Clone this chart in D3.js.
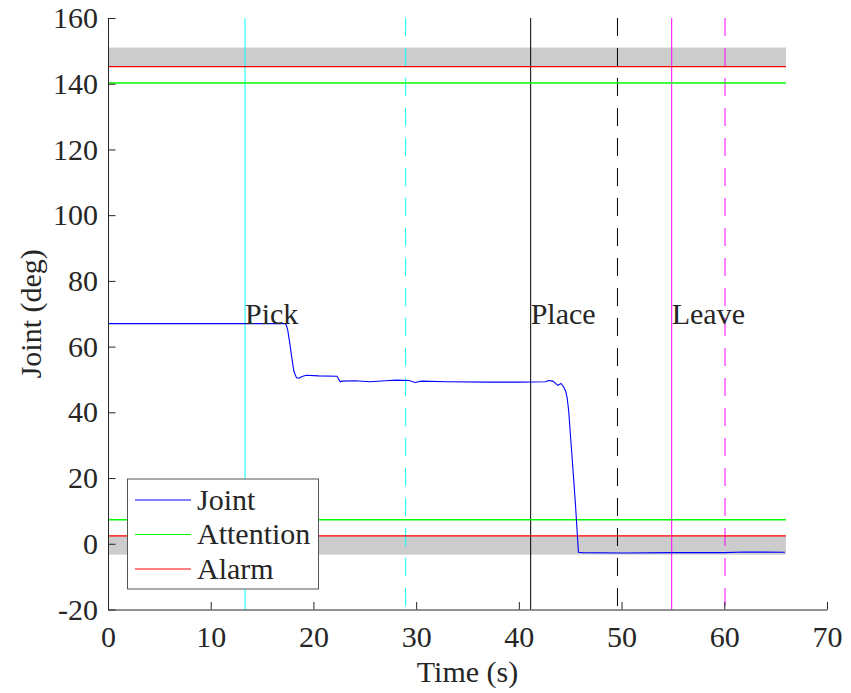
<!DOCTYPE html>
<html lang="en">
<head>
<meta charset="UTF-8">
<title>Joint angle</title>
<script src="https://cdnjs.cloudflare.com/ajax/libs/d3/7.8.5/d3.min.js"></script>
<style>
  body { margin: 0; background: #fff; }
  svg text { font-family: "Liberation Serif", "Times New Roman", serif; fill: #262626; }
</style>
</head>
<body>
<div id="chart"></div>
<script>
// joint trajectory (s, deg)
const jointT = [0, 17.2, 17.35, 17.5, 17.7, 17.9, 18.1, 18.35, 18.6, 18.9, 19.3, 20.5, 22.3, 22.6, 22.8, 24, 25.5, 27, 28.1, 29.3, 29.9, 30.5, 33, 37, 40, 42.6, 42.9, 43.3, 43.8, 44.1, 44.35, 44.55, 44.7, 44.85, 45.0, 45.15, 45.35, 45.5, 45.65, 45.8, 46.2, 50, 55, 60, 62, 65.9];
const jointV = [67, 67, 66.6, 65, 61, 56.5, 52.5, 50.5, 50.4, 50.9, 51.3, 51.1, 51.0, 49.3, 49.5, 49.6, 49.3, 49.6, 49.8, 49.7, 49.1, 49.5, 49.3, 49.2, 49.2, 49.3, 49.7, 49.5, 48.2, 48.8, 47.8, 46.5, 44.5, 40.5, 34, 27.7, 19, 12.5, 5, -2.6, -2.7, -2.8, -2.7, -2.7, -2.5, -2.6];

// thresholds (deg)
const attentionLevels = [140.2, 7.3];
const alarmLevels = [145.2, 2.4];
const alarmBands = [[145.2, 151], [-3.3, 2.4]];
const thresholdEnd = 66;

// event markers (s)
const phaseNames = ["Pick", "Place", "Leave"];
const phaseStart = [13.34, 41.15, 54.88];
const phaseEnd = [28.98, 49.6, 60.07];
const phaseLabelY = 67;

const legendNames = ["Joint", "Attention", "Alarm"];
const xTicks = [0, 10, 20, 30, 40, 50, 60, 70];
const yTicks = [-20, 0, 20, 40, 60, 80, 100, 120, 140, 160];

const phaseColors = ["#00ffff", "#000000", "#ff00ff"];
const legendColors = ["#0000ff", "#00ff00", "#ff0000"];

const W = 851, H = 693;
const mLeft = 108, mRight = 827, mTop = 18, mBottom = 609.5;
const fontPx = "30px";

const svg = d3.select("#chart").append("svg")
  .attr("width", W).attr("height", H);

const x = d3.scaleLinear().domain([0, 70]).range([mLeft, mRight]);
const y = d3.scaleLinear().domain([-20, 160]).range([mBottom, mTop]);

// gray bands
svg.append("g").selectAll("rect")
  .data(alarmBands)
  .enter().append("rect")
  .attr("x", x(0))
  .attr("width", x(thresholdEnd) - x(0))
  .attr("y", d => y(d[1]))
  .attr("height", d => y(d[0]) - y(d[1]))
  .style("fill", "#cccccc");

// vertical event lines
const vlines = svg.append("g");
phaseStart.forEach((t, i) => {
  vlines.append("line")
    .attr("x1", x(t)).attr("x2", x(t))
    .attr("y1", y(160)).attr("y2", y(-20))
    .style("stroke", phaseColors[i]).style("stroke-width", 1);
  vlines.append("line")
    .attr("x1", x(phaseEnd[i])).attr("x2", x(phaseEnd[i]))
    .attr("y1", y(160)).attr("y2", y(-20))
    .style("stroke", phaseColors[i]).style("stroke-width", 1)
    .style("stroke-dasharray", "18,12");
});

// thresholds
const hlines = svg.append("g");
attentionLevels.forEach(v => {
  hlines.append("line")
    .attr("x1", x(0)).attr("x2", x(thresholdEnd))
    .attr("y1", y(v)).attr("y2", y(v))
    .style("stroke", legendColors[1]).style("stroke-width", 1.4);
});
alarmLevels.forEach(v => {
  hlines.append("line")
    .attr("x1", x(0)).attr("x2", x(thresholdEnd))
    .attr("y1", y(v)).attr("y2", y(v))
    .style("stroke", legendColors[2]).style("stroke-width", 1.2);
});

// joint curve
const line = d3.line().x(d => x(d[0])).y(d => y(d[1]));
svg.append("path")
  .datum(jointT.map((t, i) => [t, jointV[i]]))
  .attr("d", line)
  .style("fill", "none")
  .style("stroke", legendColors[0])
  .style("stroke-width", 1.1);

// phase labels
svg.append("g").selectAll("text")
  .data(phaseNames)
  .enter().append("text")
  .attr("x", (d, i) => x(phaseStart[i]))
  .attr("y", y(phaseLabelY))
  .style("font-size", fontPx)
  .text(d => d);

// axes
const fmt = d3.format("d");
const xAxis = svg.append("g")
  .attr("transform", `translate(0,${mBottom})`)
  .call(d3.axisBottom(x).tickValues(xTicks).tickFormat(fmt)
    .tickSizeInner(-7.5).tickSizeOuter(0).tickPadding(16));
const yAxis = svg.append("g")
  .attr("transform", `translate(${mLeft},0)`)
  .call(d3.axisLeft(y).tickValues(yTicks).tickFormat(d => String(d))
    .tickSizeInner(-7.5).tickSizeOuter(0).tickPadding(10));
[xAxis, yAxis].forEach(a => {
  a.select(".domain").style("stroke", "#262626").style("stroke-width", 1);
  a.selectAll(".tick line").style("stroke", "#262626").style("stroke-width", 1);
  a.selectAll(".tick text")
    .style("font-family", "'Liberation Serif', serif")
    .style("font-size", fontPx)
    .style("fill", "#262626");
});

svg.append("text")
  .attr("x", (mLeft + mRight) / 2).attr("y", 682)
  .attr("text-anchor", "middle")
  .style("font-size", fontPx)
  .text("Time (s)");

svg.append("text")
  .attr("transform", `translate(41,${(mTop + mBottom) / 2}) rotate(-90)`)
  .attr("text-anchor", "middle")
  .style("font-size", fontPx)
  .text("Joint (deg)");

// legend
const lg = svg.append("g");
lg.append("rect")
  .attr("x", 127.5).attr("y", 479)
  .attr("width", 191).attr("height", 110)
  .style("fill", "#fff").style("stroke", "#555").style("stroke-width", 1);
legendNames.forEach((name, i) => {
  const ly = 500 + i * 34.5;
  lg.append("line")
    .attr("x1", 135).attr("x2", 191)
    .attr("y1", ly).attr("y2", ly)
    .style("stroke", legendColors[i]).style("stroke-width", 1);
  lg.append("text")
    .attr("x", 197).attr("y", ly)
    .attr("dy", "0.33em")
    .style("font-size", fontPx)
    .text(name);
});
</script>
</body>
</html>
